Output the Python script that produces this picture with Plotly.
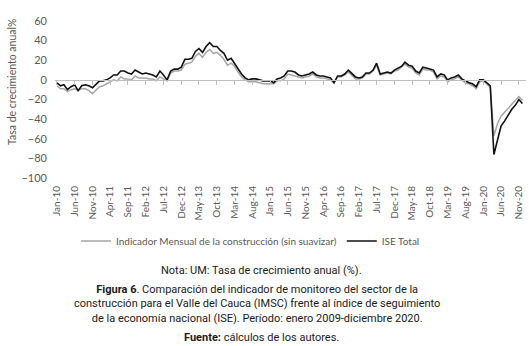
import pandas as pd
import plotly.graph_objects as go

months = pd.date_range("2010-01-01", periods=132, freq="MS")

ise_total = [
    -3, -6, -5, -10, -7, -5, -11, -6, -5, -6, -8, -5,      # 2010
    -1, -1, 0, 2, 5, 5, 9, 9, 7, 6, 10, 8,                 # 2011
    6, 7, 6, 5, 3, 9, 5, 0, 9, 11, 11, 13,                 # 2012
    21, 21, 22, 29, 32, 28, 34, 38, 34, 34, 30, 27,        # 2013
    20, 22, 17, 11, 6, 2, 0, 1, 1, 0, -1, -1,              # 2014
    -1, -3, 1, 2, 4, 9, 9, 8, 5, 4, 5, 6,                  # 2015
    8, 5, 4, 4, 3, 2, -3, 4, 4, 6, 10, 6,                  # 2016
    3, 2, 3, 7, 7, 10, 17, 6, 7, 8, 7, 10,                 # 2017
    12, 14, 18, 15, 14, 9, 7, 13, 12, 11, 10, 3,           # 2018
    6, 5, 0, 2, 3, 5, 1, -1, -3, -4, -7, 0,                # 2019
    0, -3, -6, -76, -62, -47, -42, -36, -30, -26, -20, -24 # 2020
]

imsc = [
    -6, -9, -9, -12, -10, -9, -11, -9, -9, -11, -14, -10,  # 2010
    -7, -6, -4, -2, 0, -1, 3, 1, 1, 0, 4, 2,               # 2011
    2, 2, 1, 1, -1, 3, 1, -1, 7, 9, 9, 10,                 # 2012
    16, 17, 18, 24, 27, 23, 28, 31, 27, 28, 25, 21,        # 2013
    15, 17, 14, 8, 3, 0, -2, -2, -2, -3, -4, -4,           # 2014
    -4, -4, -1, -1, 1, 6, 5, 4, 3, 2, 3, 4,                # 2015
    6, 3, 2, 2, 1, 0, -3, 3, 3, 5, 8, 4,                   # 2016
    1, 1, 2, 6, 6, 9, 15, 5, 6, 7, 6, 9,                   # 2017
    10, 13, 16, 13, 12, 7, 5, 11, 10, 10, 8, 1,            # 2018
    4, 3, -2, 0, 1, 3, 0, -3, -4, -6, -9, -2,              # 2019
    -1, -4, -8, -57, -45, -37, -33, -29, -25, -21, -17, -21 # 2020
]

y_ticks = [60, 40, 20, 0, -20, -40, -60, -80, -100]
name_imsc = "Indicador Mensual de la construcción (sin suavizar)"
name_ise = "ISE Total"
y_title = "Tasa de crecimiento anual%"
nota = "Nota: UM: Tasa de crecimiento anual (%)."
figura = ("<b>Figura 6</b>. Comparación del indicador de monitoreo del sector de la<br>"
          "construcción para el Valle del Cauca (IMSC) frente al índice de seguimiento<br>"
          "de la economía nacional (ISE). Período: enero 2009-diciembre 2020.")
fuente = "<b>Fuente:</b> cálculos de los autores."

W, H = 529, 346
L, R, T, B = 55, 3, 21, 168
PW, PH = W - L - R, H - T - B

def py(p):
    return (H - B - p) / PH

def px(p):
    return (p - L) / PW

chart_font = "Lato, 'Open Sans', sans-serif"
cap_font = "Roboto, 'Noto Sans', sans-serif"
grey_txt = "#595959"

xr = ["2009-12-15", "2021-01-01"]

fig = go.Figure()
fig.add_trace(go.Scatter(x=months, y=imsc, mode="lines", name=name_imsc,
                         line=dict(color="#a6a6a6", width=1.5)))
fig.add_trace(go.Scatter(x=months, y=ise_total, mode="lines", name=name_ise,
                         line=dict(color="#111111", width=1.6)))
# invisible trace to carry the zero-crossing axis
fig.add_trace(go.Scatter(x=months, y=ise_total, xaxis="x2", mode="lines",
                         line=dict(width=0, color="rgba(0,0,0,0)"),
                         showlegend=False, hoverinfo="skip"))

fig.update_layout(
    width=W, height=H,
    margin=dict(l=L, r=R, t=T, b=B, pad=0),
    paper_bgcolor="white", plot_bgcolor="white",
    showlegend=True,
    legend=dict(orientation="h", x=px(76), y=py(241), xanchor="left", yanchor="middle",
                font=dict(family=chart_font, size=10, color=grey_txt),
                bgcolor="rgba(0,0,0,0)"),
    xaxis=dict(type="date", range=xr, tickmode="linear", tick0="2010-01-01", dtick="M5",
               tickformat="%b-%y", tickangle=-90, showgrid=False, showline=False,
               zeroline=False, ticks="", ticklabelstandoff=5,
               tickfont=dict(family=chart_font, size=10, color=grey_txt)),
    xaxis2=dict(type="date", range=xr, overlaying="x", anchor="free", position=100 / 160,
                tickmode="linear", tick0="2010-01-01", dtick="M5", showticklabels=False,
                showline=True, linecolor="#bfbfbf", linewidth=1, ticks="outside",
                ticklen=4, tickcolor="#bfbfbf", showgrid=False, zeroline=False),
    yaxis=dict(range=[-100, 60], tickvals=y_ticks, showgrid=False, zeroline=False,
               showline=False, ticks="", ticklabelstandoff=7,
               tickfont=dict(family=chart_font, size=11, color=grey_txt)),
    annotations=[
        dict(text=y_title, x=px(12), y=py(82), xref="paper", yref="paper", textangle=-90,
             showarrow=False, xanchor="center", yanchor="middle",
             font=dict(family=chart_font, size=10.5, color=grey_txt)),
        dict(text=nota, x=px(261), y=py(270), xref="paper", yref="paper", showarrow=False,
             xanchor="center", yanchor="middle", font=dict(family=cap_font, size=11, color="#1a1a1a")),
        dict(text=figura, x=px(257), y=py(304), xref="paper", yref="paper", showarrow=False,
             xanchor="center", yanchor="middle", align="center",
             font=dict(family=cap_font, size=11, color="#1a1a1a")),
        dict(text=fuente, x=px(261), y=py(337), xref="paper", yref="paper", showarrow=False,
             xanchor="center", yanchor="middle", font=dict(family=cap_font, size=11, color="#1a1a1a")),
    ],
)

fig.write_html("out.html")
